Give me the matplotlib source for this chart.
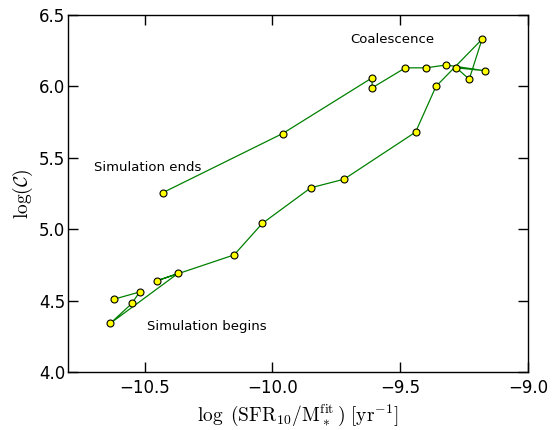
import numpy as np
import matplotlib
matplotlib.use('Agg')
import matplotlib.pyplot as plt

plt.rcParams['mathtext.fontset'] = 'cm'

# path in order, from start to end
ssfr = [-10.62, -10.52, -10.55, -10.635, -10.37, -10.45, -10.15, -10.04, -9.85, -9.72,
        -9.44, -9.36, -9.18, -9.23, -9.28, -9.17, -9.32, -9.40, -9.48, -9.61,
        -9.61, -9.96, -10.43]
logc = [4.51, 4.56, 4.48, 4.34, 4.69, 4.64, 4.82, 5.04, 5.29, 5.35,
        5.68, 6.00, 6.33, 6.05, 6.13, 6.11, 6.15, 6.13, 6.13, 5.99,
        6.06, 5.67, 5.255]

fig = plt.figure(figsize=(5.54, 4.30), dpi=100)
ax = fig.add_axes([68/554, 1-372/430, 460/554, 357/430])

ax.plot(ssfr, logc, '-', color='green', lw=0.9, marker='o', ms=5,
        mfc='yellow', mec='black', mew=0.8)

ax.text(-10.70, 5.43, 'Simulation ends', fontsize=9.5, va='center')
ax.text(-10.49, 4.32, 'Simulation begins', fontsize=9.5, va='center')
ax.text(-9.53, 6.33, 'Coalescence', fontsize=9.5, va='center', ha='center')

ax.set_xlim(-10.8, -9.0)
ax.set_ylim(4.0, 6.5)
ax.set_xticks([-10.5, -10.0, -9.5, -9.0])
ax.set_yticks([4.0, 4.5, 5.0, 5.5, 6.0, 6.5])
ax.tick_params(direction='in', top=True, right=True, length=7, width=1,
               labelsize=12)
ax.tick_params(axis='x', pad=5)
ax.tick_params(axis='y', pad=1.8)
for s in ax.spines.values():
    s.set_linewidth(1)

ax.set_xlabel(r'$\log\ (\mathrm{SFR_{10}/M_*^{fit}}\,)\ [\mathrm{yr^{-1}}]$', fontsize=14)
ax.set_ylabel(r'$\log(\mathcal{C})$', fontsize=14, labelpad=3)

fig.savefig('out.png', dpi=100)
